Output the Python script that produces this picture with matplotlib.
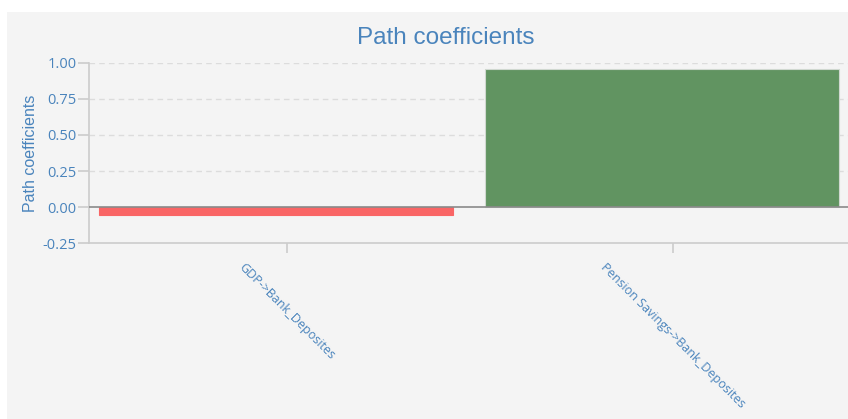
import numpy as np
import matplotlib.pyplot as plt
from matplotlib.patches import Rectangle

paths = ['GDP->Bank_Deposites', 'Pension Savings->Bank_Deposites']
coefs = [-0.055, 0.955]
yticks = [-0.25, 0.0, 0.25, 0.50, 0.75, 1.00]

text_color = '#4a84bc'
bar_colors = ['#f96565' if c < 0 else '#619461' for c in coefs]

fig = plt.figure(figsize=(8.48, 4.19), dpi=100, facecolor='white')
# grey panel behind the plot
fig.patches.append(Rectangle((7 / 848, 0), 1, (419 - 12) / 419, transform=fig.transFigure,
                             facecolor='#f4f4f4', edgecolor='none', zorder=-10))

ax = fig.add_axes([89 / 848, 176 / 419, 1 - 89 / 848, 180 / 419])
ax.set_facecolor('none')

x = np.arange(len(paths))
ax.bar(x, coefs, width=0.917, color=bar_colors, edgecolor=['#f96565', '#d0d8d0'],
       linewidth=0.8, zorder=3)
ax.axhline(0, color='#8a8a8a', linewidth=1.2, zorder=4)

ax.set_ylim(-0.25, 1.0)
ax.set_xlim(-0.4845, 1.482)
ax.set_yticks(yticks)
ax.set_yticklabels([f'{t:.2f}' for t in yticks])
ax.set_xticks(x + 0.0285)
ax.set_xticklabels(paths, rotation=-45, ha='center', va='top')

for t in [0.25, 0.5, 0.75, 1.0]:
    ax.axhline(t, color='#dcdcdc', linewidth=1, dashes=(4, 3), zorder=1)

for side in ['top', 'right']:
    ax.spines[side].set_visible(False)
for side in ['left', 'bottom']:
    ax.spines[side].set_color('#cccccc')
    ax.spines[side].set_linewidth(1.2)

ax.tick_params(axis='y', colors='#cccccc', labelcolor=text_color, length=8, width=1.2,
               labelsize=10.5, pad=1)
ax.tick_params(axis='x', colors='#cccccc', labelcolor=text_color, length=7, width=1.2,
               labelsize=9, pad=6)
for lbl in ax.get_xticklabels() + ax.get_yticklabels():
    lbl.set_family('Open Sans')

ax.set_ylabel('Path coefficients', color=text_color, fontsize=11.5, family='Liberation Sans',
              labelpad=3)
fig.text(446 / 848, 1 - 38 / 419, 'Path coefficients', color=text_color, fontsize=17.5,
         family='Liberation Sans', ha='center', va='center')

plt.savefig('out.png', dpi=100, facecolor=fig.get_facecolor())
